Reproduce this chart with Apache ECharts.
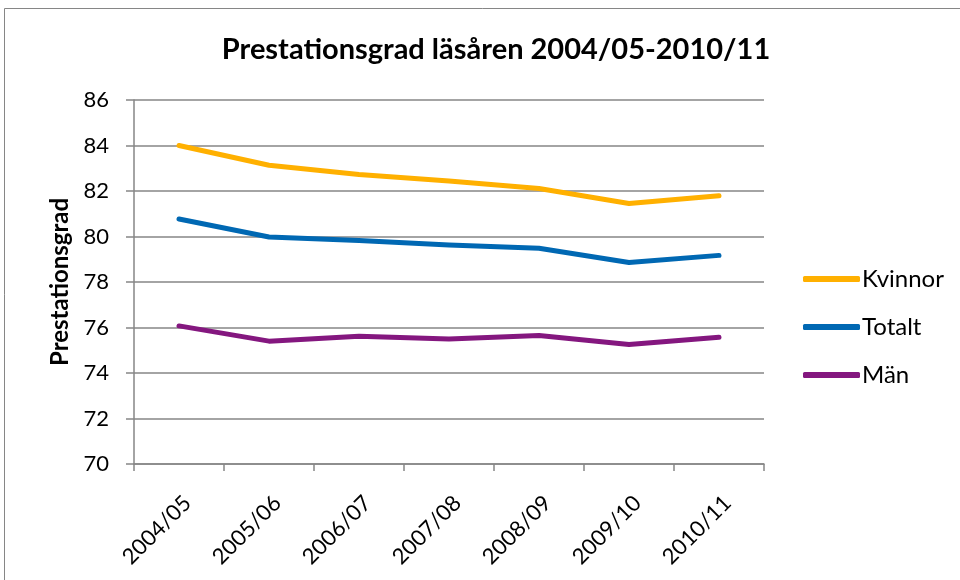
<!DOCTYPE html>
<html>
<head>
<meta charset="utf-8">
<script src="https://cdn.jsdelivr.net/npm/echarts@6/dist/echarts.min.js"></script>
<style>
  html, body { margin: 0; padding: 0; background: #fff; }
  #chart { width: 960px; height: 580px; }
</style>
</head>
<body>
<div id="chart"></div>
<script>
const categories = ["2004/05", "2005/06", "2006/07", "2007/08", "2008/09", "2009/10", "2010/11"];
const kvinnor = [84.0, 83.13, 82.73, 82.44, 82.11, 81.45, 81.79];
const totalt = [80.77, 79.98, 79.82, 79.63, 79.48, 78.86, 79.17];
const man = [76.07, 75.4, 75.62, 75.49, 75.65, 75.25, 75.57];
const yTicks = { min: 70, max: 86, interval: 2 };

const font = "Lato, 'Open Sans', sans-serif";
const axisColor = "#868686";

const chart = echarts.init(document.getElementById("chart"));

function lineSeries(name, data, color) {
  return {
    name,
    type: "line",
    data,
    showSymbol: false,
    symbol: "none",
    lineStyle: { color, width: 5, cap: "round", join: "round" },
    itemStyle: { color },
  };
}

chart.setOption({
  backgroundColor: "#fff",
  animation: false,
  title: {
    text: "Prestationsgrad läsåren 2004/05-2010/11",
    left: 491,
    textAlign: "center",
    top: 30,
    textStyle: { fontFamily: font, fontSize: 29, fontWeight: "bold", color: "#000" },
  },
  graphic: [
    {
      type: "rect",
      shape: { x: 4.5, y: 8.5, width: 960, height: 600 },
      style: { fill: "none", stroke: axisColor, lineWidth: 1 },
      silent: true,
    },
  ],
  grid: { left: 134, right: 196, top: 100, bottom: 116 },
  legend: {
    orient: "vertical",
    left: 803,
    top: 267,
    padding: 0,
    itemWidth: 57,
    itemHeight: 6,
    itemGap: 24,
    icon: "roundRect",
    textStyle: { fontFamily: font, fontSize: 24, lineHeight: 24, color: "#000", padding: [0, 0, 0, -3] },
    data: ["Kvinnor", "Totalt", "Män"],
  },
  xAxis: {
    type: "category",
    data: categories,
    boundaryGap: true,
    axisLine: { lineStyle: { color: axisColor, width: 1.5 } },
    axisTick: { show: true, length: 7, lineStyle: { color: axisColor, width: 1.5 } },
    axisLabel: {
      rotate: 45,
      interval: 0,
      margin: 44,
      padding: [0, -12, 0, 0],
      fontFamily: font,
      fontSize: 22,
      color: "#000",
    },
    splitLine: { show: false },
  },
  yAxis: {
    type: "value",
    min: yTicks.min,
    max: yTicks.max,
    interval: yTicks.interval,
    name: "Prestationsgrad",
    nameLocation: "middle",
    nameGap: 62,
    nameRotate: 90,
    nameTextStyle: { fontFamily: font, fontSize: 24, fontWeight: "bold", color: "#000" },
    axisLine: { show: true, lineStyle: { color: axisColor, width: 1.5 } },
    axisTick: { show: true, inside: false, length: 8, lineStyle: { color: axisColor, width: 1.5 } },
    axisLabel: { fontFamily: font, fontSize: 22, color: "#000", margin: 25 },
    splitLine: { show: true, lineStyle: { color: axisColor, width: 1.5 } },
  },
  series: [
    lineSeries("Kvinnor", kvinnor, "#FFB000"),
    lineSeries("Totalt", totalt, "#0068B3"),
    lineSeries("Män", man, "#84177F"),
  ],
});
</script>
</body>
</html>
